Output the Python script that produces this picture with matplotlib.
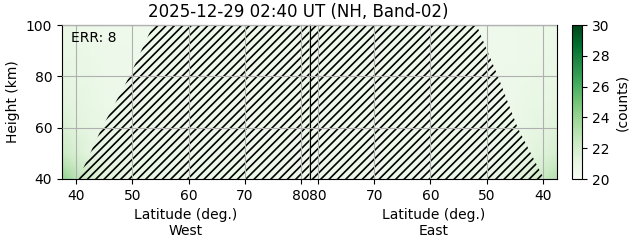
import numpy as np
import matplotlib
matplotlib.use("Agg")
import matplotlib.pyplot as plt

# ---- data ----
lat_nodes = [37.5, 40, 42.5, 45, 50, 60, 70, 81.5]
height_nodes = [40, 45, 50, 60, 70, 80, 90, 100]

west_counts = [
    [24.2, 23.0, 22.0, 21.5, 21.0, 20.8, 20.8, 20.8],
    [23.2, 22.4, 21.7, 21.2, 20.9, 20.8, 20.7, 20.7],
    [22.4, 21.8, 21.3, 21.0, 20.8, 20.7, 20.7, 20.7],
    [21.8, 21.4, 21.1, 20.9, 20.7, 20.7, 20.6, 20.6],
    [21.4, 21.2, 21.0, 20.8, 20.7, 20.6, 20.6, 20.6],
    [21.2, 21.0, 20.9, 20.7, 20.6, 20.6, 20.6, 20.6],
    [21.0, 20.9, 20.8, 20.7, 20.6, 20.6, 20.6, 20.6],
    [20.9, 20.8, 20.7, 20.6, 20.6, 20.6, 20.6, 20.6],
]
east_counts = [
    [23.2, 22.4, 21.8, 21.3, 20.9, 20.7, 20.7, 20.7],
    [22.5, 21.9, 21.4, 21.1, 20.8, 20.7, 20.7, 20.7],
    [21.9, 21.5, 21.2, 20.9, 20.7, 20.7, 20.6, 20.6],
    [21.5, 21.2, 21.0, 20.8, 20.7, 20.6, 20.6, 20.6],
    [21.2, 21.0, 20.9, 20.7, 20.6, 20.6, 20.6, 20.6],
    [21.0, 20.9, 20.8, 20.7, 20.6, 20.6, 20.6, 20.6],
    [20.9, 20.8, 20.7, 20.6, 20.6, 20.6, 20.6, 20.6],
    [20.8, 20.7, 20.7, 20.6, 20.6, 20.6, 20.6, 20.6],
]

hatch_heights = [40, 60, 80, 100]
west_hatch_edge = [40.4, 44.6, 49.5, 53.7]
east_hatch_edge = [39.8, 44.5, 48.0, 51.8]

lat_ticks = [40, 50, 60, 70, 80]
height_ticks = [40, 60, 80, 100]
cbar_ticks = [20, 22, 24, 26, 28, 30]
lat_max = 81.5
lat_min = 37.5

title = "2025-12-29 02:40 UT (NH, Band-02)"
err_text = "ERR: 8"

# ---- figure ----
W, H = 631, 243
fig = plt.figure(figsize=(W / 100, H / 100), dpi=100)

def fx(px):
    return px / W

def fy(py):
    return 1 - py / H

left, mid, right = 62, 309.5, 557
top, bottom = 25, 179
axw = fig.add_axes([fx(left), fy(bottom), fx(mid - left), fy(top) - fy(bottom)])
axe = fig.add_axes([fx(mid), fy(bottom), fx(right - mid), fy(top) - fy(bottom)])
cax = fig.add_axes([fx(572), fy(bottom), fx(10), fy(top) - fy(bottom)])

LAT, HGT = np.meshgrid(lat_nodes, height_nodes)
kw = dict(cmap="Greens", vmin=20, vmax=30, shading="gouraud", rasterized=True)
mw = axw.pcolormesh(LAT, HGT, np.array(west_counts), **kw)
axe.pcolormesh(LAT, HGT, np.array(east_counts), **kw)

plt.rcParams["hatch.linewidth"] = 1.2
for ax, edge in ((axw, west_hatch_edge), (axe, east_hatch_edge)):
    ax.fill_betweenx(hatch_heights, edge, lat_max, facecolor="none",
                     edgecolor="k", hatch="////", linewidth=0, zorder=2)
    ax.set_ylim(40, 100)
    ax.set_xticks(lat_ticks)
    ax.set_yticks(height_ticks)
    ax.grid(True, color="#b0b0b0", linewidth=0.8, zorder=3)
    ax.set_axisbelow(False)
    ax.tick_params(labelsize=10)

axw.set_xlim(lat_min, lat_max)
axe.set_xlim(lat_max, lat_min)
axe.tick_params(left=False, labelleft=False)
axw.set_ylabel("Height (km)", fontsize=10)
axw.set_xlabel("Latitude (deg.)\nWest", fontsize=10)
axe.set_xlabel("Latitude (deg.)\nEast", fontsize=10)

axw.text(0.036, 0.916, err_text, transform=axw.transAxes, fontsize=10,
         ha="left", va="center", zorder=5)

cb = fig.colorbar(mw, cax=cax, ticks=cbar_ticks)
cb.set_label("(counts)", fontsize=10)
cb.ax.tick_params(labelsize=10)
cb.solids.set_rasterized(True)

fig.text(fx(298.5), fy(12), title, ha="center", va="center", fontsize=12)

fig.savefig("out.png", dpi=100)
